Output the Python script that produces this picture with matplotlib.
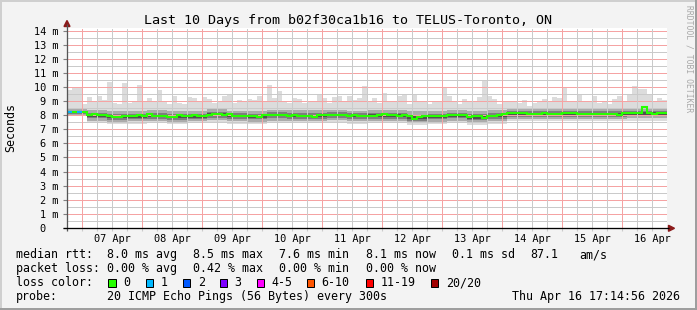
import numpy as np
import matplotlib
matplotlib.use("Agg")
import matplotlib.pyplot as plt
from matplotlib.patches import Rectangle, Polygon
from matplotlib.lines import Line2D

W, H, DPI = 697, 310, 100

# ---------------- data ----------------
step_hours = 2          # each median / max value covers 2 hours
block_steps = 4         # smoke quantile blocks cover 4 steps (8 hours)

median_ms = [8.20, 8.20, 8.20, 8.20, 8.01, 8.06, 8.01, 8.01, 7.92, 7.89,
             7.89, 7.92, 7.92, 7.92, 7.99, 7.96, 8.06, 7.96, 7.96, 7.94,
             7.89, 7.89, 7.99, 7.92, 7.92, 8.04, 7.94, 7.92, 8.04, 8.11,
             8.06, 8.04, 8.06, 7.96, 7.92, 7.92, 7.92, 7.92, 7.87, 8.01,
             8.04, 8.04, 8.04, 7.99, 7.96, 8.04, 7.96, 7.96, 7.96, 7.89,
             8.01, 8.01, 8.01, 8.04, 8.04, 8.04, 7.94, 8.01, 7.94, 7.94,
             7.96, 7.96, 8.01, 8.06, 8.01, 8.01, 7.96, 8.04, 7.94, 7.70,
             7.87, 7.94, 7.94, 7.92, 7.94, 7.96, 8.04, 8.01, 7.99, 7.99,
             7.87, 7.92, 7.92, 7.82, 7.94, 7.94, 7.99, 8.06, 8.13, 8.13,
             8.13, 8.15, 8.11, 8.11, 8.11, 8.15, 8.08, 8.11, 8.11, 8.13,
             8.13, 8.13, 8.11, 8.11, 8.11, 8.11, 8.11, 8.11, 8.11, 8.11,
             8.04, 8.13, 8.13, 8.18, 8.18, 8.55, 8.13, 8.06, 8.18, 8.18]

max_ms = [9.81, 9.97, 9.97, 8.79, 9.26, 8.91, 9.34, 9.10, 10.35, 8.86,
          8.79, 10.28, 8.86, 9.00, 10.16, 8.96, 9.19, 9.03, 9.81, 8.91,
          8.79, 9.34, 8.86, 8.79, 9.26, 9.19, 9.03, 9.26, 9.15, 8.86,
          8.91, 9.34, 9.50, 8.86, 9.10, 8.91, 9.15, 9.10, 9.34, 8.96,
          10.14, 9.19, 9.74, 8.96, 8.86, 9.19, 9.15, 8.86, 9.03, 8.96,
          9.43, 9.19, 8.86, 9.26, 9.34, 8.96, 9.38, 9.10, 9.19, 10.04,
          9.03, 9.19, 8.86, 9.57, 8.91, 8.96, 9.38, 9.50, 8.79, 9.43,
          8.91, 8.96, 8.79, 8.96, 9.03, 9.90, 9.38, 8.91, 8.79, 9.15,
          8.91, 9.03, 9.26, 10.45, 9.38, 9.15, 8.79, 9.03, 8.91, 9.03,
          8.86, 9.10, 8.67, 8.86, 8.96, 9.15, 9.03, 9.26, 9.19, 9.97,
          9.03, 8.91, 9.50, 9.03, 8.91, 9.34, 8.86, 8.96, 8.79, 9.15,
          9.38, 8.96, 9.50, 10.04, 9.86, 9.86, 9.50, 8.96, 9.19, 9.10]

loss_pings = [1, 0, 1] + [0] * 117

min_ms = [7.92, 7.45, 7.36, 7.40, 7.43, 7.38, 7.41, 7.48, 7.40, 7.38,
          7.46, 7.42, 7.41, 7.47, 7.40, 7.43, 7.44, 7.28, 7.38, 7.44,
          7.33, 7.40, 7.60, 7.58, 7.59, 7.60, 7.58, 7.58, 7.62, 7.61]
q10_ms = [8.00, 7.62, 7.52, 7.56, 7.58, 7.53, 7.56, 7.64, 7.57, 7.54,
          7.62, 7.58, 7.57, 7.63, 7.56, 7.60, 7.60, 7.44, 7.54, 7.61,
          7.48, 7.56, 7.76, 7.74, 7.75, 7.75, 7.74, 7.74, 7.78, 7.77]
q25_ms = [8.08, 7.78, 7.68, 7.72, 7.74, 7.69, 7.71, 7.80, 7.72, 7.70,
          7.78, 7.74, 7.73, 7.79, 7.72, 7.76, 7.76, 7.60, 7.70, 7.77,
          7.64, 7.72, 7.90, 7.88, 7.89, 7.89, 7.88, 7.88, 7.92, 7.91]
q40_ms = [8.14, 7.90, 7.79, 7.83, 7.86, 7.80, 7.83, 7.93, 7.84, 7.81,
          7.91, 7.86, 7.85, 7.91, 7.84, 7.88, 7.88, 7.72, 7.82, 7.89,
          7.76, 7.85, 8.02, 8.00, 8.01, 8.01, 8.00, 8.00, 8.04, 8.03]
q60_ms = [8.25, 8.08, 7.97, 8.01, 8.04, 7.98, 8.01, 8.12, 8.02, 7.99,
          8.09, 8.04, 8.03, 8.09, 8.02, 8.06, 8.06, 7.93, 8.00, 8.07,
          7.94, 8.04, 8.19, 8.17, 8.18, 8.18, 8.17, 8.17, 8.22, 8.20]
q75_ms = [8.33, 8.18, 8.07, 8.11, 8.14, 8.08, 8.11, 8.22, 8.12, 8.09,
          8.19, 8.14, 8.13, 8.19, 8.12, 8.16, 8.16, 8.04, 8.10, 8.17,
          8.05, 8.15, 8.28, 8.26, 8.27, 8.27, 8.26, 8.26, 8.32, 8.30]
q90_ms = [8.50, 8.38, 8.28, 8.32, 8.35, 8.30, 8.33, 8.42, 8.32, 8.30,
          8.40, 8.35, 8.34, 8.39, 8.33, 8.37, 8.36, 8.26, 8.31, 8.38,
          8.27, 8.36, 8.48, 8.46, 8.47, 8.48, 8.46, 8.47, 8.52, 8.50]

day_labels = ["07 Apr", "08 Apr", "09 Apr", "10 Apr", "11 Apr",
              "12 Apr", "13 Apr", "14 Apr", "15 Apr", "16 Apr"]
first_midnight_h = 6     # hours after the left edge of the graph
span_hours = 240
y_ticks = [0, 1, 2, 3, 4, 5, 6, 7, 8, 9, 10, 11, 12, 13, 14]
y_tick_labels = ["0  ", "1 m", "2 m", "3 m", "4 m", "5 m", "6 m", "7 m",
                 "8 m", "9 m", "10 m", "11 m", "12 m", "13 m", "14 m"]
y_top = 14.18

loss_names = ["0", "1", "2", "3", "4-5", "6-10", "11-19", "20/20"]
loss_colors = ["#26ff00", "#00b8ff", "#0059ff", "#7e00ff", "#ff00ff",
               "#ff5500", "#ff0000", "#a10000"]

title = "Last 10 Days from b02f30ca1b16 to TELUS-Toronto, ON"

# ---------------- figure ----------------
MONO = "DejaVu Sans Mono"
plt.rcParams["font.family"] = [MONO]
fig = plt.figure(figsize=(W / DPI, H / DPI), dpi=DPI)
fig.patch.set_facecolor("#F3F3F3")

def fx(x):
    return x / W

def fy(y):
    return 1 - y / H

PL, PR, PT, PB = 67, 667, 28, 228
ax = fig.add_axes([fx(PL), fy(PB), (PR - PL) / W, (PB - PT) / H])
ax.set_facecolor("white")
ax.set_xlim(0, span_hours)
ax.set_ylim(0, y_top)
for s in ax.spines.values():
    s.set_visible(False)

n = len(median_ms)
edges = np.arange(n + 1) * step_hours

def expand(arr):
    return np.repeat(np.asarray(arr, float), block_steps)

# smoke layers (outer to inner)
ax.stairs(max_ms, edges, baseline=expand(min_ms), fill=True,
          color="#DCDCDC", lw=0, zorder=1)
ax.stairs(expand(q90_ms), edges, baseline=expand(q10_ms), fill=True,
          color="#ABABAB", lw=0, zorder=2)
ax.stairs(expand(q75_ms), edges, baseline=expand(q25_ms), fill=True,
          color="#7E7E7E", lw=0, zorder=3)
ax.stairs(expand(q60_ms), edges, baseline=expand(q40_ms), fill=True,
          color="#505050", lw=0, zorder=4)

# grid (dotted, drawn over the smoke like rrdtool)
GRID_MINOR = "#CACACA"
GRID_MAJOR = "#F5A3A3"
def gline(horizontal, pos, color):
    kw = dict(color=color, lw=0.72, linestyle=(0, (1, 1)), snap=True,
              antialiased=False, zorder=5)
    if horizontal:
        ax.axhline(pos, **kw)
    else:
        ax.axvline(pos, **kw)

for v in y_ticks:
    if v + 0.5 < y_top:
        gline(True, v + 0.5, GRID_MINOR)
for v in y_ticks[1:]:
    gline(True, v, GRID_MAJOR)
six_h = np.arange(6, span_hours, 6)
for h in six_h:
    gline(False, h, GRID_MAJOR if (h - first_midnight_h) % 24 == 0 else GRID_MINOR)

# median line coloured by loss
ax.stairs(median_ms, edges, baseline=None, color=loss_colors[0], lw=1.5, zorder=6)
for i, lp in enumerate(loss_pings):
    if lp > 0:
        ax.hlines(median_ms[i], edges[i], edges[i + 1],
                  color=loss_colors[min(lp, 7)], lw=1.5, zorder=7)

# ticks
ax.set_yticks(y_ticks)
ax.set_yticklabels(y_tick_labels)
ax.tick_params(axis="y", length=3, width=0.8, color="#808080", pad=3.2,
               labelsize=7.4, labelcolor="black")
noon = [first_midnight_h + 12 + 24 * k for k in range(len(day_labels))]
ax.set_xticks(noon)
ax.set_xticklabels(day_labels)
ax.xaxis.remove_overlapping_locs = False
ax.set_xticks(list(six_h), minor=True)
ax.tick_params(axis="x", which="major", length=0, pad=4.3, labelsize=7.4)
ax.tick_params(axis="x", which="minor", length=2.5, width=0.8, color=GRID_MINOR)
for t, pos in zip(ax.xaxis.get_minor_ticks(), six_h):
    if (pos - first_midnight_h) % 24 == 0:
        t.tick1line.set_color(GRID_MAJOR)
for lab in ax.get_yticklabels() + ax.get_xticklabels():
    lab.set_family(MONO)

# axes lines with arrows (pixel coordinates)
def pline(x0, y0, x1, y1, color, lw=1.0):
    fig.add_artist(Line2D([fx(x0), fx(x1)], [fy(y0), fy(y1)], color=color,
                          lw=lw * 0.72, transform=fig.transFigure,
                          solid_capstyle="butt"))

pline(67, 231, 67, 24, "#555555", 1.3)
pline(63, 228.3, 669, 228.3, "#000000", 1.3)
fig.add_artist(Polygon([(fx(67), fy(20.5)), (fx(64), fy(26.5)), (fx(70), fy(26.5))],
                       closed=True, color="#8B1A1A", transform=fig.transFigure))
fig.add_artist(Polygon([(fx(674.5), fy(228.3)), (fx(668.5), fy(225.3)),
                        (fx(668.5), fy(231.3))],
                       closed=True, color="#8B1A1A", transform=fig.transFigure))

# title / labels
fig.text(fx(347.5), fy(24), title, ha="center", va="baseline", fontsize=9.6,
         family=MONO)
fig.text(fx(10.8), fy(127), "Seconds", rotation=90, ha="center", va="center",
         fontsize=8.35, family=MONO)
fig.text(fx(688.5), fy(59), "RRDTOOL / TOBI OETIKER", rotation=270,
         ha="center", va="center", fontsize=5.8, family=MONO, color="#A8A8A8")

# legend block
LF = 8.35
def lt(x, y, s, ha="left"):
    fig.text(fx(x), fy(y), s, ha=ha, va="baseline", fontsize=LF, family=MONO)

lt(16, 258, "median rtt:")
lt(107.3, 258, "8.0 ms avg")
lt(193.3, 258, "8.5 ms max")
lt(279, 258, "7.6 ms min")
lt(365.7, 258, "8.1 ms now")
lt(451.7, 258, "0.1 ms sd")
lt(530, 258, "87.1")
lt(579.3, 258, "am/s")

lt(16, 272, "packet loss:")
lt(107.3, 272, "0.00 % avg")
lt(193.3, 272, "0.42 % max")
lt(279, 272, "0.00 % min")
lt(365.7, 272, "0.00 % now")

lt(16, 286, "loss color:")
sq_x = [108.3, 145.7, 182.7, 220, 256.7, 306.7, 365.7, 430.7]
lab_x = [123.3, 160.7, 197.7, 234, 271, 321.7, 381, 445.7]
for sx, lx, name, col in zip(sq_x, lab_x, loss_names, loss_colors):
    fig.add_artist(Rectangle((fx(sx), fy(286.5)), 7.5 / W, 8 / H,
                             facecolor=col, edgecolor="black", lw=0.72,
                             transform=fig.transFigure))
    lt(lx, 286, name)

lt(16, 300, "probe:")
lt(107.3, 300, "20 ICMP Echo Pings (56 Bytes) every 300s")
lt(680.5, 300, "Thu Apr 16 17:14:56 2026", ha="right")

# 3D frame
fig.add_artist(Rectangle((0, fy(2)), 1, 2 / H, color="#CFCFCF", lw=0,
                         transform=fig.transFigure))
fig.add_artist(Rectangle((0, 0), 2 / W, 1, color="#CFCFCF", lw=0,
                         transform=fig.transFigure))
fig.add_artist(Rectangle((0, 0), 1, 2 / H, color="#9E9E9E", lw=0,
                         transform=fig.transFigure))
fig.add_artist(Rectangle((1 - 2 / W, 0), 2 / W, 1, color="#9E9E9E", lw=0,
                         transform=fig.transFigure))

fig.savefig("out.png", dpi=DPI, facecolor=fig.get_facecolor())
